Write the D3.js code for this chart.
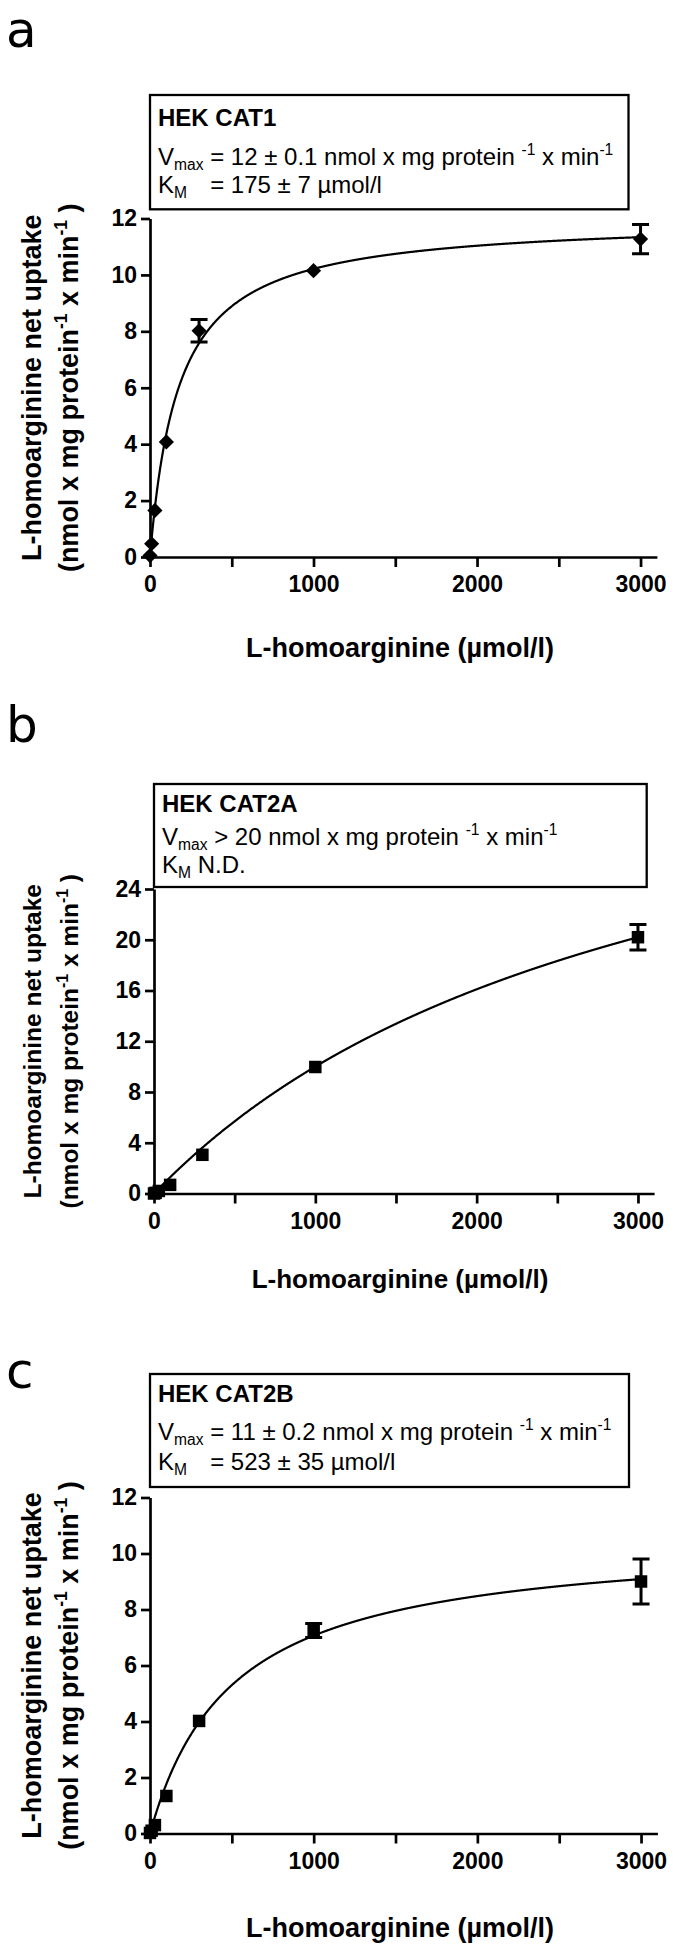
<!DOCTYPE html>
<html>
<head>
<meta charset="utf-8">
<script src="https://cdn.jsdelivr.net/npm/d3@7"></script>
<style>
  body { margin: 0; background: #fff; }
  svg { display: block; }
  text { font-family: "Liberation Sans", Arial, sans-serif; fill: #000; white-space: pre; }
</style>
</head>
<body>
<svg id="fig" width="675" height="1950"></svg>
<script>
// L-homoarginine concentrations (µmol/l), same for the three cell lines
const conc = [0, 10, 30, 100, 300, 1000, 3000];

// net uptake (nmol x mg protein-1 x min-1) and error bars
const uptakeCAT1  = [0.05, 0.47, 1.65, 4.08, 8.02, 10.15, 11.27];
const errCAT1     = [0, 0, 0, 0, 0.4, 0, 0.52];
const uptakeCAT2A = [0, 0.05, 0.2, 0.68, 3.05, 9.97, 20.2];
const errCAT2A    = [0, 0, 0, 0, 0, 0, 1.0];
const uptakeCAT2B = [0.02, 0.1, 0.3, 1.34, 4.02, 7.25, 9.0];
const errCAT2B    = [0, 0, 0, 0, 0, 0.25, 0.8];

// Michaelis-Menten fit lines as drawn: [Vmax, Km]
const fitCAT1  = [12, 175];
const fitCAT2A = [41.2, 3120];
const fitCAT2B = [10.6, 500];

const xTicks = [0, 500, 1000, 1500, 2000, 2500, 3000];
const xTickLabels = ["0", "", "1000", "", "2000", "", "3000"];
const yTicksCAT1  = [0, 2, 4, 6, 8, 10, 12];
const yTicksCAT2A = [0, 4, 8, 12, 16, 20, 24];
const yTicksCAT2B = [0, 2, 4, 6, 8, 10, 12];

const panelLetters = ["a", "b", "c"];
const cellLines = ["HEK CAT1", "HEK CAT2A", "HEK CAT2B"];
// box text: [text, "" | "sub" | "sup"]
const vmaxCAT1  = [["V", ""], ["max", "sub"], [" = 12 \u00b1 0.1 nmol x mg protein ", ""], ["-1", "sup"], [" x min", ""], ["-1", "sup"]];
const vmaxCAT2A = [["V", ""], ["max", "sub"], [" > 20 nmol x mg protein ", ""], ["-1", "sup"], [" x min", ""], ["-1", "sup"]];
const vmaxCAT2B = [["V", ""], ["max", "sub"], [" = 11 \u00b1 0.2 nmol x mg protein ", ""], ["-1", "sup"], [" x min", ""], ["-1", "sup"]];
const kmCAT1  = "= 175 \u00b1 7 \u00b5mol/l";
const kmCAT2A = " N.D.";
const kmCAT2B = "= 523 \u00b1 35 \u00b5mol/l";

const xTitle = "L-homoarginine (\u00b5mol/l)";
const yTitle1 = "L-homoarginine net uptake";
const yTitle2 = [["(nmol x mg protein", ""], ["-1", "sup"], [" x min", ""], ["-1", "sup"], [" )", ""]];

const svg = d3.select("#fig");

function rich(sel, segs, size) {
  let shift = 0;
  segs.forEach(([t, kind]) => {
    let target = kind == "sub" ? 5 : kind == "sup" ? -size * 0.4 : 0;
    sel.append("tspan")
      .attr("dy", target - shift)
      .attr("font-size", kind ? size * 0.65 : size)
      .text(t);
    shift = target;
  });
}

const drawPanel = (p) => {
  let g = svg.append("g");

  let x = d3.scaleLinear().domain([0, 3100]).range([p.left, p.right]),
      y = d3.scaleLinear().domain([0, p.yMax]).range([p.y0, p.yTop]);

  // panel letter
  g.append("text")
    .attr("x", 6).attr("y", p.letterY)
    .style("font-family", "'DejaVu Sans', sans-serif")
    .attr("font-size", 50)
    .text(p.letter);

  // info box
  let b = p.box;
  g.append("rect")
    .attr("x", b[0]).attr("y", b[1])
    .attr("width", b[2] - b[0]).attr("height", b[3] - b[1])
    .attr("fill", "none").attr("stroke", "#000").attr("stroke-width", 2.3);

  g.append("text")
    .attr("x", b[0] + 8).attr("y", p.textBase[0])
    .attr("font-size", 24).attr("font-weight", "bold")
    .text(p.cell);

  let vt = g.append("text").attr("x", b[0] + 8).attr("y", p.textBase[1]);
  rich(vt, p.vmax, 24);

  let kt = g.append("text").attr("x", b[0] + 8).attr("y", p.textBase[2]).attr("font-size", 24);
  rich(kt, [["K", ""], ["M", "sub"]], 24);
  let rest = kt.append("tspan").attr("dy", -5).attr("font-size", 24).text(p.km);
  if (p.km.startsWith("=")) {
    // line the "=" up with the one in the Vmax line
    let eqX = vt.node().getStartPositionOfChar(5).x;
    rest.attr("x", eqX);
  }

  // axes
  let xAxis = g.append("g")
    .attr("transform", "translate(0," + p.y0 + ")")
    .call(d3.axisBottom(x).tickValues(xTicks).tickSize(10).tickSizeOuter(0).tickPadding(9)
      .tickFormat((d, i) => xTickLabels[i]));

  let yAxis = g.append("g")
    .attr("transform", "translate(" + p.left + ",0)")
    .call(d3.axisLeft(y).tickValues(p.yTicks).tickSize(9).tickSizeOuter(0).tickPadding(4));

  [xAxis, yAxis].forEach(a => {
    a.attr("font-family", null).attr("font-size", null);
    a.select(".domain").attr("stroke-width", 2.7);
    a.selectAll(".tick line").attr("stroke-width", 2.7);
    a.selectAll(".tick text")
      .attr("font-size", 23).attr("font-weight", "bold").attr("fill", "#000");
  });

  // axis titles
  g.append("text")
    .attr("x", 400).attr("y", p.xTitleY)
    .attr("text-anchor", "middle")
    .attr("font-size", p.xTitleSize).attr("font-weight", "bold")
    .text(xTitle);

  let cy = (p.y0 + p.yTop) / 2;
  g.append("text")
    .attr("transform", "translate(41," + cy + ") rotate(-90)")
    .attr("text-anchor", "middle")
    .attr("font-size", p.yTitleSize).attr("font-weight", "bold")
    .text(yTitle1);
  let y2 = g.append("text")
    .attr("transform", "translate(78," + cy + ") rotate(-90)")
    .attr("text-anchor", "middle")
    .attr("font-weight", "bold");
  rich(y2, yTitle2, p.yTitleSize);

  // fitted curve
  let vmax = p.fit[0], km = p.fit[1];
  let curve = d3.range(0, 3000.5, 2).map(s => [s, vmax * s / (km + s)]);
  g.append("path")
    .datum(curve)
    .attr("fill", "none").attr("stroke", "#000").attr("stroke-width", 2.2)
    .attr("d", d3.line().x(d => x(d[0])).y(d => y(d[1])));

  let pts = conc.map((c, i) => ({c: c, v: p.values[i], e: p.errors[i]}));

  // error bars
  g.selectAll(".err")
    .data(pts.filter(d => d.e > 0))
    .enter().append("path")
      .attr("class", "err")
      .attr("fill", "none").attr("stroke", "#000").attr("stroke-width", 3)
      .attr("d", d => {
        let cx = x(d.c), hi = y(d.v + d.e), lo = y(d.v - d.e);
        return "M" + cx + "," + hi + "V" + lo +
               "M" + (cx - 8.5) + "," + hi + "H" + (cx + 8.5) +
               "M" + (cx - 8.5) + "," + lo + "H" + (cx + 8.5);
      });

  // markers
  let sym = p.diamond ? d3.symbol(d3.symbolSquare, 115) : d3.symbol(d3.symbolSquare, 156);
  g.selectAll(".pt")
    .data(pts)
    .enter().append("path")
      .attr("class", "pt")
      .attr("transform", d => "translate(" + x(d.c) + "," + y(d.v) + ")" + (p.diamond ? " rotate(45)" : ""))
      .attr("d", sym)
      .attr("fill", "#000");
};

const panels = [
  {letter: panelLetters[0], cell: cellLines[0], vmax: vmaxCAT1, km: kmCAT1,
   values: uptakeCAT1, errors: errCAT1, fit: fitCAT1, yTicks: yTicksCAT1, yMax: 12, diamond: true,
   left: 150, right: 656.9, y0: 557, yTop: 218.5, box: [150, 95, 628.5, 209.3],
   letterY: 47, textBase: [126, 165, 193], xTitleY: 657, xTitleSize: 27, yTitleSize: 27},
  {letter: panelLetters[1], cell: cellLines[1], vmax: vmaxCAT2A, km: kmCAT2A,
   values: uptakeCAT2A, errors: errCAT2A, fit: fitCAT2A, yTicks: yTicksCAT2A, yMax: 24, diamond: false,
   left: 154, right: 654.1, y0: 1193.5, yTop: 889, box: [154, 784, 646.7, 887],
   letterY: 742, textBase: [811.7, 845, 872.7], xTitleY: 1288, xTitleSize: 26, yTitleSize: 24.5},
  {letter: panelLetters[2], cell: cellLines[2], vmax: vmaxCAT2B, km: kmCAT2B,
   values: uptakeCAT2B, errors: errCAT2B, fit: fitCAT2B, yTicks: yTicksCAT2B, yMax: 12, diamond: false,
   left: 150, right: 657.4, y0: 1833.5, yTop: 1497.5, box: [150, 1374, 629, 1487],
   letterY: 1388, textBase: [1401.7, 1440, 1470], xTitleY: 1937, xTitleSize: 27, yTitleSize: 27}
];

for (let i = 0; i < panels.length; i++) {
  drawPanel(panels[i]);
}
</script>
</body>
</html>
